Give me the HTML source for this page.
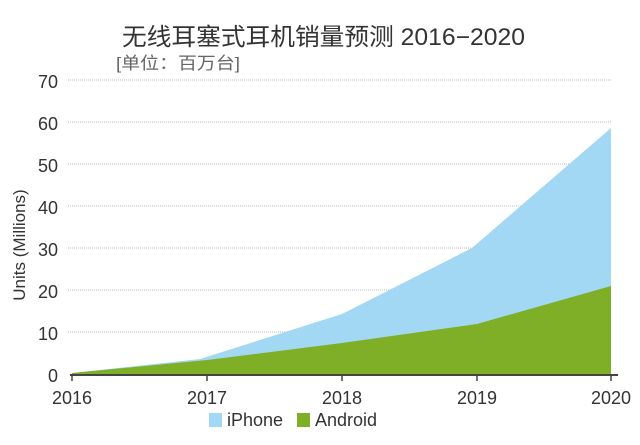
<!DOCTYPE html>
<html><head><meta charset="utf-8"><style>
body{margin:0;background:#fff;width:640px;height:440px;overflow:hidden}
svg text{font-family:"Liberation Sans","Noto Sans CJK SC",sans-serif}
</style></head><body>
<svg width="640" height="440" xmlns="http://www.w3.org/2000/svg">
<text x="122" y="45" font-size="24" fill="#333" textLength="403" lengthAdjust="spacingAndGlyphs">无线耳塞式耳机销量预测 2016−2020</text>
<text x="116" y="69" font-size="17" fill="#666" textLength="124" lengthAdjust="spacingAndGlyphs">[单位：百万台]</text>
<g stroke="#bbb" stroke-dasharray="1,1" stroke-width="1">
<line x1="68" x2="612" y1="80" y2="80"/><line x1="68" x2="612" y1="122" y2="122"/>
<line x1="68" x2="612" y1="164" y2="164"/><line x1="68" x2="612" y1="206" y2="206"/>
<line x1="68" x2="612" y1="248" y2="248"/><line x1="68" x2="612" y1="290" y2="290"/>
<line x1="68" x2="612" y1="332" y2="332"/>
</g>
<path d="M72,373 L200,359 L342,314 L472,248 L611,128 L611,375 L72,375Z" fill="#a2d8f3"/>
<path d="M72,373 L207,360 L342,343 L477,324 L611,286 L611,375 L72,375Z" fill="#7fae27"/>
<line x1="70" x2="618" y1="375" y2="375" stroke="#444" stroke-width="2"/>
<g stroke="#444" stroke-width="1.5"><line x1="72" x2="72" y1="375" y2="381"/><line x1="207" x2="207" y1="375" y2="381"/><line x1="342" x2="342" y1="375" y2="381"/><line x1="477" x2="477" y1="375" y2="381"/><line x1="611" x2="611" y1="375" y2="381"/></g>
<g font-size="18" fill="#333" text-anchor="end">
<text x="58" y="88">70</text><text x="58" y="130">60</text><text x="58" y="172">50</text><text x="58" y="214">40</text><text x="58" y="256">30</text><text x="58" y="298">20</text><text x="58" y="340">10</text><text x="58" y="382">0</text>
</g>
<g font-size="18" fill="#333" text-anchor="middle">
<text x="72" y="404">2016</text><text x="207" y="404">2017</text><text x="342" y="404">2018</text><text x="477" y="404">2019</text><text x="611" y="404">2020</text>
</g>
<text transform="translate(25,245) rotate(-90)" font-size="17" fill="#333" text-anchor="middle">Units (Millions)</text>
<rect x="209" y="413" width="13" height="14" fill="#a2d8f3"/>
<text x="227" y="426" font-size="18" fill="#333">iPhone</text>
<rect x="297" y="413" width="13" height="14" fill="#7fae27"/>
<text x="315" y="426" font-size="18" fill="#333">Android</text>
</svg>
</body></html>
